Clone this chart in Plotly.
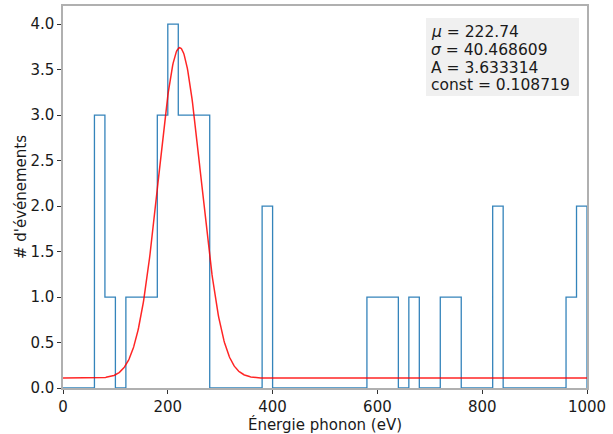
import numpy as np
import plotly.graph_objects as go

# Histogram: bin edges (eV) and counts per bin (20 eV bins)
bin_edges = list(range(0, 1001, 20))
counts = [0, 0, 0, 3, 1, 0, 1, 1, 1, 3,
          4, 3, 3, 3, 0, 0, 0, 0, 0, 2,
          0, 0, 0, 0, 0, 0, 0, 0, 0, 1,
          1, 1, 0, 1, 0, 0, 1, 1, 0, 0,
          0, 2, 0, 0, 0, 0, 0, 0, 1, 2]

# Gaussian fit parameters
mu = 222.74
sigma = 40.468609
amp = 3.633314
const = 0.108719

# Step outline of the histogram
step_x = [bin_edges[0]]
step_y = [0]
for i, c in enumerate(counts):
    step_x += [bin_edges[i], bin_edges[i + 1]]
    step_y += [c, c]
step_x.append(bin_edges[-1])
step_y.append(0)

xf = np.linspace(0, 1000, 1000)
yf = amp * np.exp(-(xf - mu) ** 2 / (2 * sigma ** 2)) + const

fig = go.Figure()
fig.add_trace(go.Scatter(x=step_x, y=step_y, mode="lines",
                         line=dict(color="#1f77b4", width=1.3),
                         opacity=0.9, showlegend=False, hoverinfo="skip"))
fig.add_trace(go.Scatter(x=xf, y=yf, mode="lines",
                         line=dict(color="#ff0000", width=1.5),
                         opacity=0.85, showlegend=False))

font = dict(family="DejaVu Sans", size=15, color="#1a1a1a")
axis_common = dict(showgrid=False, zeroline=False, showline=True, mirror=True,
                   linecolor="#b0b0b0", linewidth=1.5, ticks="outside",
                   ticklen=4, tickwidth=1, tickcolor="#333333",
                   tickfont=font, layer="above traces", automargin=False)

fig.update_layout(
    width=613, height=434,
    margin=dict(l=63, r=26, t=6, b=46),
    plot_bgcolor="white", paper_bgcolor="white",
    font=font,
    xaxis=dict(range=[0, 1000], tickvals=[0, 200, 400, 600, 800, 1000],
               title=dict(text="Énergie phonon (eV)", font=font, standoff=1),
               **axis_common),
    yaxis=dict(range=[0, 4.2], tickvals=[0, 0.5, 1, 1.5, 2, 2.5, 3, 3.5, 4],
               tickformat=".1f",
               title=dict(text="# d'événements", font=font, standoff=0),
               **axis_common),
)

# Fit-parameter box
fig.add_shape(type="rect", xref="paper", yref="paper",
              x0=0.6927, x1=0.9847, y0=0.7644, y1=0.9686,
              fillcolor="#f0f0f0", line=dict(width=0), layer="above")
box_lines = [f"<i>μ</i> = {mu}", f"<i>σ</i> = {sigma:.6f}",
             f"A = {amp:.6f}", f"const = {const:.6f}"]
line_y = [0.9319, 0.8848, 0.8390, 0.7932]
for txt, yy in zip(box_lines, line_y):
    fig.add_annotation(xref="paper", yref="paper", x=0.6985, y=yy,
                       xanchor="left", yanchor="middle", showarrow=False,
                       text=txt, font=dict(family="DejaVu Sans", size=15.5,
                                           color="#1a1a1a"))

fig.write_html("out.html")
